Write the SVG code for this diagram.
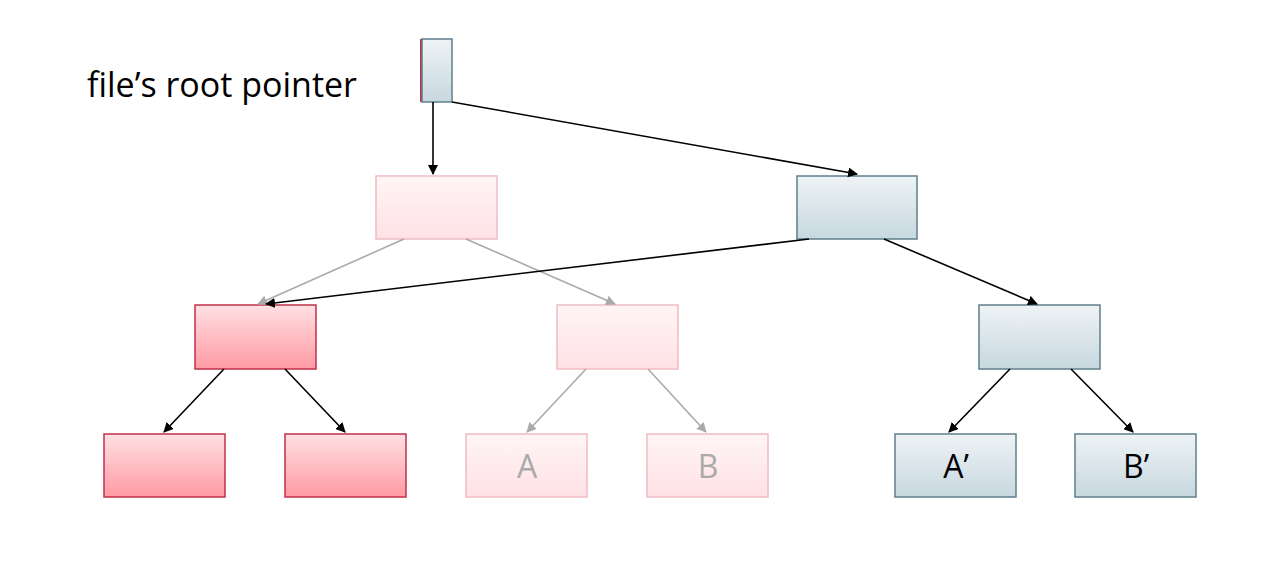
<svg xmlns="http://www.w3.org/2000/svg" width="1278" height="562" viewBox="0 0 1278 562">
<defs>
<linearGradient id="gb" x1="0" y1="0" x2="0" y2="1"><stop offset="0" stop-color="#eef3f5"/><stop offset="1" stop-color="#c7d8df"/></linearGradient>
<linearGradient id="gr" x1="0" y1="0" x2="0" y2="1"><stop offset="0" stop-color="#ffe0e3"/><stop offset="1" stop-color="#ff9aa3"/></linearGradient>
<linearGradient id="gf" x1="0" y1="0" x2="0" y2="1"><stop offset="0" stop-color="#fff5f6"/><stop offset="1" stop-color="#ffe1e5"/></linearGradient>
<marker id="ak" markerWidth="10" markerHeight="10" refX="9" refY="5" orient="auto" markerUnits="userSpaceOnUse" viewBox="0 0 10 10"><path d="M0,0 L10,5 L0,10z" fill="#000"/></marker>
<marker id="ag" markerWidth="10" markerHeight="10" refX="9" refY="5" orient="auto" markerUnits="userSpaceOnUse" viewBox="0 0 10 10"><path d="M0,0 L10,5 L0,10z" fill="#aaa"/></marker>
</defs>
<style>
.b{fill:url(#gb);stroke:#5f7f8c;stroke-width:1.5}
.r{fill:url(#gr);stroke:#c0304a;stroke-width:1.5}
.f{fill:url(#gf);stroke:#f0bcc4;stroke-width:1.5}
.k{stroke:#000;stroke-width:1.6;fill:none;marker-end:url(#ak)}
.g{stroke:#aaa;stroke-width:1.6;fill:none;marker-end:url(#ag)}
text{font-family:"Open Sans","Liberation Sans",sans-serif;font-size:32px;text-anchor:middle}
</style>
<text x="222" y="97" style="font-size:34px">file’s root pointer</text>
<g id="root"><rect x="420" y="39" width="3" height="63" fill="#c0304a"/><rect class="b" x="422" y="39" width="30" height="63"/></g>
<g id="faded-top"><rect class="f" x="376" y="176" width="121" height="63"/></g>
<g id="blue-top"><rect class="b" x="797" y="176" width="120" height="63"/></g>
<g id="red-mid"><rect class="r" x="195" y="305" width="121" height="64"/></g>
<g id="faded-mid"><rect class="f" x="557" y="305" width="121" height="64"/></g>
<g id="blue-mid"><rect class="b" x="979" y="305" width="121" height="64"/></g>
<g id="red-l"><rect class="r" x="104" y="434" width="121" height="63"/></g>
<g id="red-r"><rect class="r" x="285" y="434" width="121" height="63"/></g>
<g id="A"><rect class="f" x="466" y="434" width="121" height="63"/><text x="527" y="478" fill="#aaa">A</text></g>
<g id="B"><rect class="f" x="647" y="434" width="121" height="63"/><text x="708" y="478" fill="#aaa">B</text></g>
<g id="A2"><rect class="b" x="895" y="434" width="121" height="63"/><text x="956" y="478" fill="#000">A’</text></g>
<g id="B2"><rect class="b" x="1075" y="434" width="121" height="63"/><text x="1136" y="478" fill="#000">B’</text></g>
<g id="connectors">
<line class="g" x1="404" y1="239" x2="258" y2="304"/>
<line class="g" x1="466" y1="239" x2="615" y2="304"/>
<line class="g" x1="586" y1="369" x2="527" y2="432"/>
<line class="g" x1="648" y1="369" x2="706" y2="432"/>
<line class="k" x1="433" y1="102" x2="433" y2="174"/>
<line class="k" x1="452" y1="102" x2="857" y2="174"/>
<line class="k" x1="809" y1="239" x2="266" y2="304"/>
<line class="k" x1="884" y1="239" x2="1037" y2="304"/>
<line class="k" x1="224" y1="369" x2="164" y2="432"/>
<line class="k" x1="285" y1="369" x2="345" y2="432"/>
<line class="k" x1="1010" y1="369" x2="949" y2="432"/>
<line class="k" x1="1071" y1="369" x2="1133" y2="432"/>
</g>
</svg>
